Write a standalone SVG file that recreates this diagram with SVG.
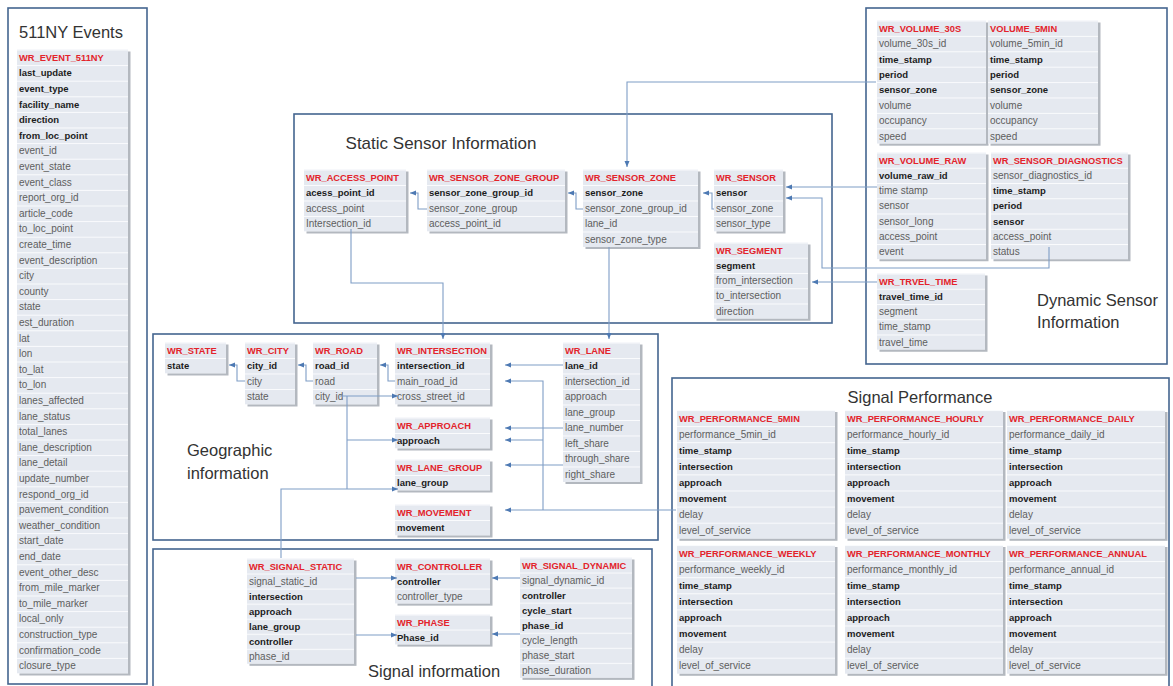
<svg xmlns="http://www.w3.org/2000/svg" width="1173" height="686" viewBox="0 0 1173 686">
<defs>
<style>
.pn{fill:none;stroke:#44658f;stroke-width:1.6}
.tt{font-family:'Liberation Sans',Arial,sans-serif;font-size:16.5px;fill:#333}
.sh{fill:#b3b8bf}
.h{font-family:'Liberation Sans',Arial,sans-serif;font-size:9.3px;font-weight:bold;fill:#e3232b}
.b{font-family:'Liberation Sans',Arial,sans-serif;font-size:9.5px;font-weight:bold;fill:#1c1c1c}
.r{font-family:'Liberation Sans',Arial,sans-serif;font-size:10px;fill:#5e5e5e}
.c{fill:none;stroke:#7f9dc6;stroke-width:1.1}
.a{marker-end:url(#ar)}
</style>
<marker id="ar" markerWidth="6" markerHeight="6" refX="6" refY="3" orient="auto" markerUnits="userSpaceOnUse"><path d="M0,0.5 L6,3 L0,5.5z" fill="#4d79b3"/></marker>
<pattern id="p156" width="8" height="15.6" patternUnits="userSpaceOnUse"><rect width="8" height="15.6" fill="#e5e9f0"/><rect width="8" height="1" fill="#fafbfd"/></pattern>
<pattern id="p155" width="8" height="15.5" patternUnits="userSpaceOnUse"><rect width="8" height="15.5" fill="#e5e9f0"/><rect width="8" height="1" fill="#fafbfd"/></pattern>
<pattern id="p154" width="8" height="15.4" patternUnits="userSpaceOnUse"><rect width="8" height="15.4" fill="#e5e9f0"/><rect width="8" height="1" fill="#fafbfd"/></pattern>
<pattern id="p1525" width="8" height="15.25" patternUnits="userSpaceOnUse"><rect width="8" height="15.25" fill="#e5e9f0"/><rect width="8" height="1" fill="#fafbfd"/></pattern>
<pattern id="p1505" width="8" height="15.05" patternUnits="userSpaceOnUse"><rect width="8" height="15.05" fill="#e5e9f0"/><rect width="8" height="1" fill="#fafbfd"/></pattern>
<pattern id="p161" width="8" height="16.1" patternUnits="userSpaceOnUse"><rect width="8" height="16.1" fill="#e5e9f0"/><rect width="8" height="1" fill="#fafbfd"/></pattern>
</defs>
<rect width="1173" height="686" fill="#fff"/>

<g id="panels">
<rect class="pn" x="8" y="8" width="139" height="676"/>
<rect class="pn" x="294" y="114" width="538" height="209"/>
<rect class="pn" x="866" y="8" width="301" height="356"/>
<rect class="pn" x="153" y="334" width="505" height="206"/>
<rect class="pn" x="153" y="549" width="499" height="150"/>
<rect class="pn" x="672" y="378" width="497" height="320"/>
<text class="tt" x="19" y="38">511NY Events</text>
<text class="tt" x="441" y="149" text-anchor="middle" style="font-size:17px">Static Sensor Information</text>
<text class="tt" x="1037" y="306">Dynamic Sensor</text>
<text class="tt" x="1037" y="328">Information</text>
<text class="tt" x="187" y="456">Geographic</text>
<text class="tt" x="187" y="479">information</text>
<text class="tt" x="368" y="677">Signal information</text>
<text class="tt" x="920" y="403" text-anchor="middle">Signal Performance</text>
</g>

<g id="t-event511ny" transform="translate(17,49.5)">
<rect class="sh" x="2.5" y="2" width="111" height="624"/><rect width="111" height="624" fill="url(#p156)"/>
<text class="h" x="2" y="11.3">WR_EVENT_511NY</text>
<text class="b" x="2" y="26.9">last_update</text>
<text class="b" x="2" y="42.5">event_type</text>
<text class="b" x="2" y="58.1">facility_name</text>
<text class="b" x="2" y="73.7">direction</text>
<text class="b" x="2" y="89.3">from_loc_point</text>
<text class="r" x="2" y="104.9">event_id</text>
<text class="r" x="2" y="120.5">event_state</text>
<text class="r" x="2" y="136.1">event_class</text>
<text class="r" x="2" y="151.7">report_org_id</text>
<text class="r" x="2" y="167.3">article_code</text>
<text class="r" x="2" y="182.9">to_loc_point</text>
<text class="r" x="2" y="198.5">create_time</text>
<text class="r" x="2" y="214.1">event_description</text>
<text class="r" x="2" y="229.7">city</text>
<text class="r" x="2" y="245.3">county</text>
<text class="r" x="2" y="260.9">state</text>
<text class="r" x="2" y="276.5">est_duration</text>
<text class="r" x="2" y="292.1">lat</text>
<text class="r" x="2" y="307.7">lon</text>
<text class="r" x="2" y="323.3">to_lat</text>
<text class="r" x="2" y="338.9">to_lon</text>
<text class="r" x="2" y="354.5">lanes_affected</text>
<text class="r" x="2" y="370.1">lane_status</text>
<text class="r" x="2" y="385.7">total_lanes</text>
<text class="r" x="2" y="401.3">lane_description</text>
<text class="r" x="2" y="416.9">lane_detail</text>
<text class="r" x="2" y="432.5">update_number</text>
<text class="r" x="2" y="448.1">respond_org_id</text>
<text class="r" x="2" y="463.7">pavement_condition</text>
<text class="r" x="2" y="479.3">weather_condition</text>
<text class="r" x="2" y="494.9">start_date</text>
<text class="r" x="2" y="510.5">end_date</text>
<text class="r" x="2" y="526.1">event_other_desc</text>
<text class="r" x="2" y="541.7">from_mile_marker</text>
<text class="r" x="2" y="557.3">to_mile_marker</text>
<text class="r" x="2" y="572.9">local_only</text>
<text class="r" x="2" y="588.5">construction_type</text>
<text class="r" x="2" y="604.1">confirmation_code</text>
<text class="r" x="2" y="619.7">closure_type</text>
</g>

<g id="t-access-point" transform="translate(304,169.5)">
<rect class="sh" x="2.5" y="2" width="102" height="62"/><rect width="102" height="62" fill="url(#p155)"/>
<text class="h" x="2" y="11.25">WR_ACCESS_POINT</text>
<text class="b" x="2" y="26.75">acess_point_id</text>
<text class="r" x="2" y="42.25">access_point</text>
<text class="r" x="2" y="57.75">Intersection_id</text>
</g>
<g id="t-sensor-zone-group" transform="translate(427,169.5)">
<rect class="sh" x="2.5" y="2" width="138" height="62"/><rect width="138" height="62" fill="url(#p155)"/>
<text class="h" x="2" y="11.25">WR_SENSOR_ZONE_GROUP</text>
<text class="b" x="2" y="26.75">sensor_zone_group_id</text>
<text class="r" x="2" y="42.25">sensor_zone_group</text>
<text class="r" x="2" y="57.75">access_point_id</text>
</g>
<g id="t-sensor-zone" transform="translate(583,169.5)">
<rect class="sh" x="2.5" y="2" width="115" height="77.5"/><rect width="115" height="77.5" fill="url(#p155)"/>
<text class="h" x="2" y="11.25">WR_SENSOR_ZONE</text>
<text class="b" x="2" y="26.75">sensor_zone</text>
<text class="r" x="2" y="42.25">sensor_zone_group_id</text>
<text class="r" x="2" y="57.75">lane_id</text>
<text class="r" x="2" y="73.25">sensor_zone_type</text>
</g>
<g id="t-sensor" transform="translate(714,169.5)">
<rect class="sh" x="2.5" y="2" width="69" height="62"/><rect width="69" height="62" fill="url(#p155)"/>
<text class="h" x="2" y="11.25">WR_SENSOR</text>
<text class="b" x="2" y="26.75">sensor</text>
<text class="r" x="2" y="42.25">sensor_zone</text>
<text class="r" x="2" y="57.75">sensor_type</text>
</g>
<g id="t-segment" transform="translate(714,242.5)">
<rect class="sh" x="2.5" y="2" width="94" height="76.25"/><rect width="94" height="76.25" fill="url(#p1525)"/>
<text class="h" x="2" y="11.1">WR_SEGMENT</text>
<text class="b" x="2" y="26.4">segment</text>
<text class="r" x="2" y="41.6">from_intersection</text>
<text class="r" x="2" y="56.9">to_intersection</text>
<text class="r" x="2" y="72.1">direction</text>
</g>

<g id="t-volume-30s" transform="translate(877,20.5)">
<rect class="sh" x="2.5" y="2" width="109" height="123.2"/><rect width="109" height="123.2" fill="url(#p154)"/>
<text class="h" x="2" y="11.2">WR_VOLUME_30S</text>
<text class="r" x="2" y="26.6">volume_30s_id</text>
<text class="b" x="2" y="42">time_stamp</text>
<text class="b" x="2" y="57.4">period</text>
<text class="b" x="2" y="72.8">sensor_zone</text>
<text class="r" x="2" y="88.2">volume</text>
<text class="r" x="2" y="103.6">occupancy</text>
<text class="r" x="2" y="119">speed</text>
</g>
<g id="t-volume-5min" transform="translate(988,20.5)">
<rect class="sh" x="2.5" y="2" width="110" height="123.2"/><rect width="110" height="123.2" fill="url(#p154)"/>
<text class="h" x="2" y="11.2">VOLUME_5MIN</text>
<text class="r" x="2" y="26.6">volume_5min_id</text>
<text class="b" x="2" y="42">time_stamp</text>
<text class="b" x="2" y="57.4">period</text>
<text class="b" x="2" y="72.8">sensor_zone</text>
<text class="r" x="2" y="88.2">volume</text>
<text class="r" x="2" y="103.6">occupancy</text>
<text class="r" x="2" y="119">speed</text>
</g>
<g id="t-volume-raw" transform="translate(877,152.5)">
<rect class="sh" x="2.5" y="2" width="109" height="106.75"/><rect width="109" height="106.75" fill="url(#p1525)"/>
<text class="h" x="2" y="11.1">WR_VOLUME_RAW</text>
<text class="b" x="2" y="26.4">volume_raw_id</text>
<text class="r" x="2" y="41.6">time stamp</text>
<text class="r" x="2" y="56.9">sensor</text>
<text class="r" x="2" y="72.1">sensor_long</text>
<text class="r" x="2" y="87.4">access_point</text>
<text class="r" x="2" y="102.6">event</text>
</g>
<g id="t-sensor-diagnostics" transform="translate(991,152.5)">
<rect class="sh" x="2.5" y="2" width="137" height="106.75"/><rect width="137" height="106.75" fill="url(#p1525)"/>
<text class="h" x="2" y="11.1">WR_SENSOR_DIAGNOSTICS</text>
<text class="r" x="2" y="26.4">sensor_diagnostics_id</text>
<text class="b" x="2" y="41.6">time_stamp</text>
<text class="b" x="2" y="56.9">period</text>
<text class="b" x="2" y="72.1">sensor</text>
<text class="r" x="2" y="87.4">access_point</text>
<text class="r" x="2" y="102.6">status</text>
</g>
<g id="t-travel-time" transform="translate(877,273.5)">
<rect class="sh" x="2.5" y="2" width="108" height="76.25"/><rect width="108" height="76.25" fill="url(#p1525)"/>
<text class="h" x="2" y="11.1">WR_TRVEL_TIME</text>
<text class="b" x="2" y="26.4">travel_time_id</text>
<text class="r" x="2" y="41.6">segment</text>
<text class="r" x="2" y="56.9">time_stamp</text>
<text class="r" x="2" y="72.1">travel_time</text>
</g>

<g id="t-state" transform="translate(165,342.5)">
<rect class="sh" x="2.5" y="2" width="61" height="31"/><rect width="61" height="31" fill="url(#p155)"/>
<text class="h" x="2" y="11.25">WR_STATE</text>
<text class="b" x="2" y="26.75">state</text>
</g>
<g id="t-city" transform="translate(245,342.5)">
<rect class="sh" x="2.5" y="2" width="50" height="62"/><rect width="50" height="62" fill="url(#p155)"/>
<text class="h" x="2" y="11.25">WR_CITY</text>
<text class="b" x="2" y="26.75">city_id</text>
<text class="r" x="2" y="42.25">city</text>
<text class="r" x="2" y="57.75">state</text>
</g>
<g id="t-road" transform="translate(313,342.5)">
<rect class="sh" x="2.5" y="2" width="64" height="62"/><rect width="64" height="62" fill="url(#p155)"/>
<text class="h" x="2" y="11.25">WR_ROAD</text>
<text class="b" x="2" y="26.75">road_id</text>
<text class="r" x="2" y="42.25">road</text>
<text class="r" x="2" y="57.75">city_id</text>
</g>
<g id="t-intersection" transform="translate(395,342.5)">
<rect class="sh" x="2.5" y="2" width="95" height="62"/><rect width="95" height="62" fill="url(#p155)"/>
<text class="h" x="2" y="11.25">WR_INTERSECTION</text>
<text class="b" x="2" y="26.75">intersection_id</text>
<text class="r" x="2" y="42.25">main_road_id</text>
<text class="r" x="2" y="57.75">cross_street_id</text>
</g>
<g id="t-approach" transform="translate(395,417.5)">
<rect class="sh" x="2.5" y="2" width="95" height="31"/><rect width="95" height="31" fill="url(#p155)"/>
<text class="h" x="2" y="11.25">WR_APPROACH</text>
<text class="b" x="2" y="26.75">approach</text>
</g>
<g id="t-lane-group" transform="translate(395,459.5)">
<rect class="sh" x="2.5" y="2" width="95" height="31"/><rect width="95" height="31" fill="url(#p155)"/>
<text class="h" x="2" y="11.25">WR_LANE_GROUP</text>
<text class="b" x="2" y="26.75">lane_group</text>
</g>
<g id="t-movement" transform="translate(395,504.5)">
<rect class="sh" x="2.5" y="2" width="95" height="31"/><rect width="95" height="31" fill="url(#p155)"/>
<text class="h" x="2" y="11.25">WR_MOVEMENT</text>
<text class="b" x="2" y="26.75">movement</text>
</g>
<g id="t-lane" transform="translate(563,342.5)">
<rect class="sh" x="2.5" y="2" width="77" height="139.5"/><rect width="77" height="139.5" fill="url(#p155)"/>
<text class="h" x="2" y="11.25">WR_LANE</text>
<text class="b" x="2" y="26.75">lane_id</text>
<text class="r" x="2" y="42.25">intersection_id</text>
<text class="r" x="2" y="57.75">approach</text>
<text class="r" x="2" y="73.25">lane_group</text>
<text class="r" x="2" y="88.75">lane_number</text>
<text class="r" x="2" y="104.25">left_share</text>
<text class="r" x="2" y="119.75">through_share</text>
<text class="r" x="2" y="135.25">right_share</text>
</g>

<g id="t-signal-static" transform="translate(247,558.5)">
<rect class="sh" x="2.5" y="2" width="107" height="105.35"/><rect width="107" height="105.35" fill="url(#p1505)"/>
<text class="h" x="2" y="11">WR_SIGNAL_STATIC</text>
<text class="r" x="2" y="26.1">signal_static_id</text>
<text class="b" x="2" y="41.1">intersection</text>
<text class="b" x="2" y="56.2">approach</text>
<text class="b" x="2" y="71.2">lane_group</text>
<text class="b" x="2" y="86.3">controller</text>
<text class="r" x="2" y="101.3">phase_id</text>
</g>
<g id="t-controller" transform="translate(395,558.5)">
<rect class="sh" x="2.5" y="2" width="95" height="45.15"/><rect width="95" height="45.15" fill="url(#p1505)"/>
<text class="h" x="2" y="11">WR_CONTROLLER</text>
<text class="b" x="2" y="26.1">controller</text>
<text class="r" x="2" y="41.1">controller_type</text>
</g>
<g id="t-phase" transform="translate(395,614.5)">
<rect class="sh" x="2.5" y="2" width="95" height="30.1"/><rect width="95" height="30.1" fill="url(#p1505)"/>
<text class="h" x="2" y="11">WR_PHASE</text>
<text class="b" x="2" y="26.1">Phase_id</text>
</g>
<g id="t-signal-dynamic" transform="translate(520,557.5)">
<rect class="sh" x="2.5" y="2" width="112" height="120.4"/><rect width="112" height="120.4" fill="url(#p1505)"/>
<text class="h" x="2" y="11">WR_SIGNAL_DYNAMIC</text>
<text class="r" x="2" y="26.1">signal_dynamic_id</text>
<text class="b" x="2" y="41.1">controller</text>
<text class="b" x="2" y="56.2">cycle_start</text>
<text class="b" x="2" y="71.2">phase_id</text>
<text class="r" x="2" y="86.3">cycle_length</text>
<text class="r" x="2" y="101.3">phase_start</text>
<text class="r" x="2" y="116.4">phase_duration</text>
</g>

<g id="t-perf-5min" transform="translate(677,410)">
<rect class="sh" x="2.5" y="2" width="158" height="128.8"/><rect width="158" height="128.8" fill="url(#p161)"/>
<text class="h" x="2" y="11.55">WR_PERFORMANCE_5MIN</text>
<text class="r" x="2" y="27.65">performance_5min_id</text>
<text class="b" x="2" y="43.75">time_stamp</text>
<text class="b" x="2" y="59.85">intersection</text>
<text class="b" x="2" y="75.95">approach</text>
<text class="b" x="2" y="92.05">movement</text>
<text class="r" x="2" y="108.15">delay</text>
<text class="r" x="2" y="124.25">level_of_service</text>
</g>
<g id="t-perf-hourly" transform="translate(845,410)">
<rect class="sh" x="2.5" y="2" width="158" height="128.8"/><rect width="158" height="128.8" fill="url(#p161)"/>
<text class="h" x="2" y="11.55">WR_PERFORMANCE_HOURLY</text>
<text class="r" x="2" y="27.65">performance_hourly_id</text>
<text class="b" x="2" y="43.75">time_stamp</text>
<text class="b" x="2" y="59.85">intersection</text>
<text class="b" x="2" y="75.95">approach</text>
<text class="b" x="2" y="92.05">movement</text>
<text class="r" x="2" y="108.15">delay</text>
<text class="r" x="2" y="124.25">level_of_service</text>
</g>
<g id="t-perf-daily" transform="translate(1007,410)">
<rect class="sh" x="2.5" y="2" width="158" height="128.8"/><rect width="158" height="128.8" fill="url(#p161)"/>
<text class="h" x="2" y="11.55">WR_PERFORMANCE_DAILY</text>
<text class="r" x="2" y="27.65">performance_daily_id</text>
<text class="b" x="2" y="43.75">time_stamp</text>
<text class="b" x="2" y="59.85">intersection</text>
<text class="b" x="2" y="75.95">approach</text>
<text class="b" x="2" y="92.05">movement</text>
<text class="r" x="2" y="108.15">delay</text>
<text class="r" x="2" y="124.25">level_of_service</text>
</g>
<g id="t-perf-weekly" transform="translate(677,545)">
<rect class="sh" x="2.5" y="2" width="158" height="128.8"/><rect width="158" height="128.8" fill="url(#p161)"/>
<text class="h" x="2" y="11.55">WR_PERFORMANCE_WEEKLY</text>
<text class="r" x="2" y="27.65">performance_weekly_id</text>
<text class="b" x="2" y="43.75">time_stamp</text>
<text class="b" x="2" y="59.85">intersection</text>
<text class="b" x="2" y="75.95">approach</text>
<text class="b" x="2" y="92.05">movement</text>
<text class="r" x="2" y="108.15">delay</text>
<text class="r" x="2" y="124.25">level_of_service</text>
</g>
<g id="t-perf-monthly" transform="translate(845,545)">
<rect class="sh" x="2.5" y="2" width="158" height="128.8"/><rect width="158" height="128.8" fill="url(#p161)"/>
<text class="h" x="2" y="11.55">WR_PERFORMANCE_MONTHLY</text>
<text class="r" x="2" y="27.65">performance_monthly_id</text>
<text class="b" x="2" y="43.75">time_stamp</text>
<text class="b" x="2" y="59.85">intersection</text>
<text class="b" x="2" y="75.95">approach</text>
<text class="b" x="2" y="92.05">movement</text>
<text class="r" x="2" y="108.15">delay</text>
<text class="r" x="2" y="124.25">level_of_service</text>
</g>
<g id="t-perf-annual" transform="translate(1007,545)">
<rect class="sh" x="2.5" y="2" width="158" height="128.8"/><rect width="158" height="128.8" fill="url(#p161)"/>
<text class="h" x="2" y="11.55">WR_PERFORMANCE_ANNUAL</text>
<text class="r" x="2" y="27.65">performance_annual_id</text>
<text class="b" x="2" y="43.75">time_stamp</text>
<text class="b" x="2" y="59.85">intersection</text>
<text class="b" x="2" y="75.95">approach</text>
<text class="b" x="2" y="92.05">movement</text>
<text class="r" x="2" y="108.15">delay</text>
<text class="r" x="2" y="124.25">level_of_service</text>
</g>

<g id="connectors">
<path class="c a" d="M876,82H627V167"/>
<path class="c a" d="M583,209H576V193H568"/>
<path class="c a" d="M427,209H418V193H410"/>
<path class="c a" d="M714,209H712V193H703"/>
<path class="c a" d="M877,187H786"/>
<path class="c a" d="M1049,247V268H822V198H786"/>
<path class="c a" d="M877,282H812"/>
<path class="c a" d="M351,229V283H443V339"/>
<path class="c a" d="M609,247V339"/>
<path class="c a" d="M245,381H237V365H229"/>
<path class="c a" d="M313,381H306V365H298"/>
<path class="c a" d="M395,381H388V365H380"/>
<path class="c a" d="M340,396H398"/>
<path class="c" d="M347,396V489"/>
<path class="c a" d="M347,440H398"/>
<path class="c a" d="M281,558V489H398"/>
<path class="c a" d="M563,365H505"/>
<path class="c a" d="M563,428H505"/>
<path class="c a" d="M563,465H505"/>
<path class="c a" d="M676,510H505"/>
<path class="c a" d="M543,510V381H505"/>
<path class="c a" d="M543,440H505"/>
<path class="c a" d="M356,578H397"/>
<path class="c a" d="M356,635H397"/>
<path class="c a" d="M520,578H492"/>
<path class="c a" d="M520,634H492"/>
</g>
</svg>
